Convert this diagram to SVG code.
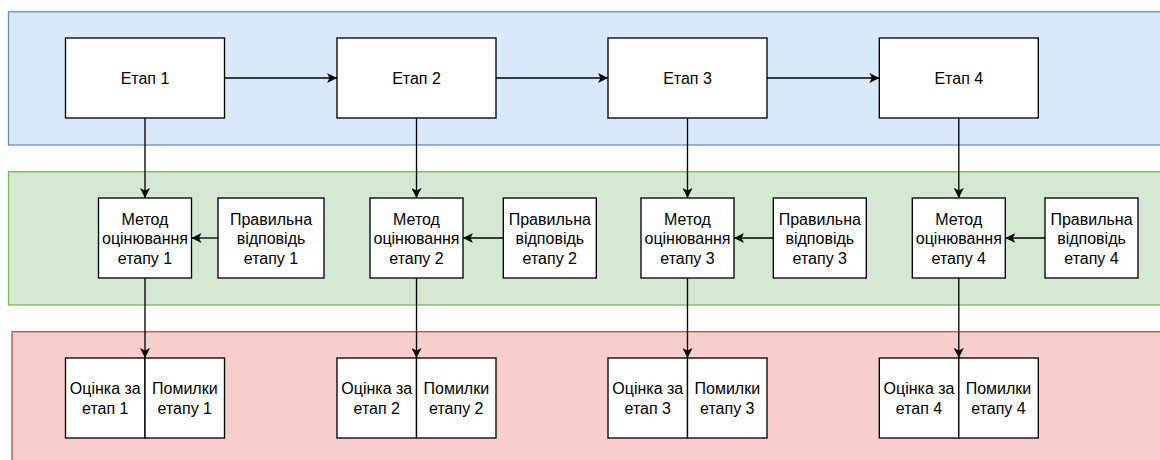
<svg xmlns="http://www.w3.org/2000/svg" width="1160" height="460" viewBox="0 0 1160 460">
<defs>
<style>
.box{fill:#ffffff;stroke:#000000;stroke-width:1.33}
.t{font-family:"Liberation Sans",Arial,sans-serif;font-size:16px;fill:#000000;text-anchor:middle;dominant-baseline:central}
.c{fill:none;stroke:#000000;stroke-width:1.33}
</style>
<marker id="ah" viewBox="0 0 10 10" refX="10" refY="5" markerWidth="10" markerHeight="10" markerUnits="userSpaceOnUse" orient="auto">
<path d="M0,0 L10,5 L0,10 L2.5,5 Z" fill="#000000"/>
</marker>
</defs>
<g id="bands">
<rect x="8.5" y="11.7" width="1160" height="133.3" fill="#dae8fc" stroke="#6c8ebf" stroke-width="1.33"/>
<rect x="8.5" y="171.7" width="1160" height="133.3" fill="#d5e8d4" stroke="#82b366" stroke-width="1.33"/>
<rect x="12" y="331.7" width="1160" height="140" fill="#f8cecc" stroke="#b85450" stroke-width="1.33"/>
</g>
<g id="stage1"><rect class="box" x="65.5" y="38" width="159" height="80"/><text class="t" x="145" y="78">Етап 1</text></g>
<g id="stage2"><rect class="box" x="337" y="38" width="159" height="80"/><text class="t" x="416.5" y="78">Етап 2</text></g>
<g id="stage3"><rect class="box" x="608" y="38" width="159" height="80"/><text class="t" x="687.5" y="78">Етап 3</text></g>
<g id="stage4"><rect class="box" x="879.3" y="38" width="159" height="80"/><text class="t" x="958.8" y="78">Етап 4</text></g>

<g id="method1"><rect class="box" x="98.5" y="198" width="93" height="80"/><text class="t" x="145" y="219">Метод</text><text class="t" x="145" y="238.5">оцінювання</text><text class="t" x="145" y="258">етапу 1</text></g>
<g id="method2"><rect class="box" x="370" y="198" width="93" height="80"/><text class="t" x="416.5" y="219">Метод</text><text class="t" x="416.5" y="238.5">оцінювання</text><text class="t" x="416.5" y="258">етапу 2</text></g>
<g id="method3"><rect class="box" x="641" y="198" width="93" height="80"/><text class="t" x="687.5" y="219">Метод</text><text class="t" x="687.5" y="238.5">оцінювання</text><text class="t" x="687.5" y="258">етапу 3</text></g>
<g id="method4"><rect class="box" x="912.3" y="198" width="93" height="80"/><text class="t" x="958.8" y="219">Метод</text><text class="t" x="958.8" y="238.5">оцінювання</text><text class="t" x="958.8" y="258">етапу 4</text></g>

<g id="answer1"><rect class="box" x="218" y="198" width="106" height="80"/><text class="t" x="271" y="219">Правильна</text><text class="t" x="271" y="238.5">відповідь</text><text class="t" x="271" y="258">етапу 1</text></g>
<g id="answer2"><rect class="box" x="503.3" y="198" width="93" height="80"/><text class="t" x="549.8" y="219">Правильна</text><text class="t" x="549.8" y="238.5">відповідь</text><text class="t" x="549.8" y="258">етапу 2</text></g>
<g id="answer3"><rect class="box" x="773.3" y="198" width="93" height="80"/><text class="t" x="819.8" y="219">Правильна</text><text class="t" x="819.8" y="238.5">відповідь</text><text class="t" x="819.8" y="258">етапу 3</text></g>
<g id="answer4"><rect class="box" x="1045" y="198" width="93" height="80"/><text class="t" x="1091.5" y="219">Правильна</text><text class="t" x="1091.5" y="238.5">відповідь</text><text class="t" x="1091.5" y="258">етапу 4</text></g>

<g id="score1"><rect class="box" x="65.5" y="358" width="79.5" height="80"/><text class="t" x="105.3" y="388.5">Оцінка за</text><text class="t" x="105.3" y="408">етап 1</text></g>
<g id="errors1"><rect class="box" x="145" y="358" width="79.5" height="80"/><text class="t" x="184.8" y="388.5">Помилки</text><text class="t" x="184.8" y="408">етапу 1</text></g>
<g id="score2"><rect class="box" x="337" y="358" width="79.5" height="80"/><text class="t" x="376.8" y="388.5">Оцінка за</text><text class="t" x="376.8" y="408">етап 2</text></g>
<g id="errors2"><rect class="box" x="416.5" y="358" width="79.5" height="80"/><text class="t" x="456.3" y="388.5">Помилки</text><text class="t" x="456.3" y="408">етапу 2</text></g>
<g id="score3"><rect class="box" x="608" y="358" width="79.5" height="80"/><text class="t" x="647.8" y="388.5">Оцінка за</text><text class="t" x="647.8" y="408">етап 3</text></g>
<g id="errors3"><rect class="box" x="687.5" y="358" width="79.5" height="80"/><text class="t" x="727.3" y="388.5">Помилки</text><text class="t" x="727.3" y="408">етапу 3</text></g>
<g id="score4"><rect class="box" x="879.3" y="358" width="79.5" height="80"/><text class="t" x="919" y="388.5">Оцінка за</text><text class="t" x="919" y="408">етап 4</text></g>
<g id="errors4"><rect class="box" x="958.8" y="358" width="79.5" height="80"/><text class="t" x="998.5" y="388.5">Помилки</text><text class="t" x="998.5" y="408">етапу 4</text></g>

<g id="connectors">
<line class="c" x1="224.5" y1="78" x2="337" y2="78" marker-end="url(#ah)"/>
<line class="c" x1="496" y1="78" x2="608" y2="78" marker-end="url(#ah)"/>
<line class="c" x1="767" y1="78" x2="879.3" y2="78" marker-end="url(#ah)"/>
<line class="c" x1="145" y1="118" x2="145" y2="198" marker-end="url(#ah)"/>
<line class="c" x1="416.5" y1="118" x2="416.5" y2="198" marker-end="url(#ah)"/>
<line class="c" x1="687.5" y1="118" x2="687.5" y2="198" marker-end="url(#ah)"/>
<line class="c" x1="958.8" y1="118" x2="958.8" y2="198" marker-end="url(#ah)"/>
<line class="c" x1="218" y1="238" x2="191.5" y2="238" marker-end="url(#ah)"/>
<line class="c" x1="503.3" y1="238" x2="463" y2="238" marker-end="url(#ah)"/>
<line class="c" x1="773.3" y1="238" x2="734" y2="238" marker-end="url(#ah)"/>
<line class="c" x1="1045" y1="238" x2="1005.3" y2="238" marker-end="url(#ah)"/>
<line class="c" x1="145" y1="278" x2="145" y2="358" marker-end="url(#ah)"/>
<line class="c" x1="416.5" y1="278" x2="416.5" y2="358" marker-end="url(#ah)"/>
<line class="c" x1="687.5" y1="278" x2="687.5" y2="358" marker-end="url(#ah)"/>
<line class="c" x1="958.8" y1="278" x2="958.8" y2="358" marker-end="url(#ah)"/>
</g>
</svg>
